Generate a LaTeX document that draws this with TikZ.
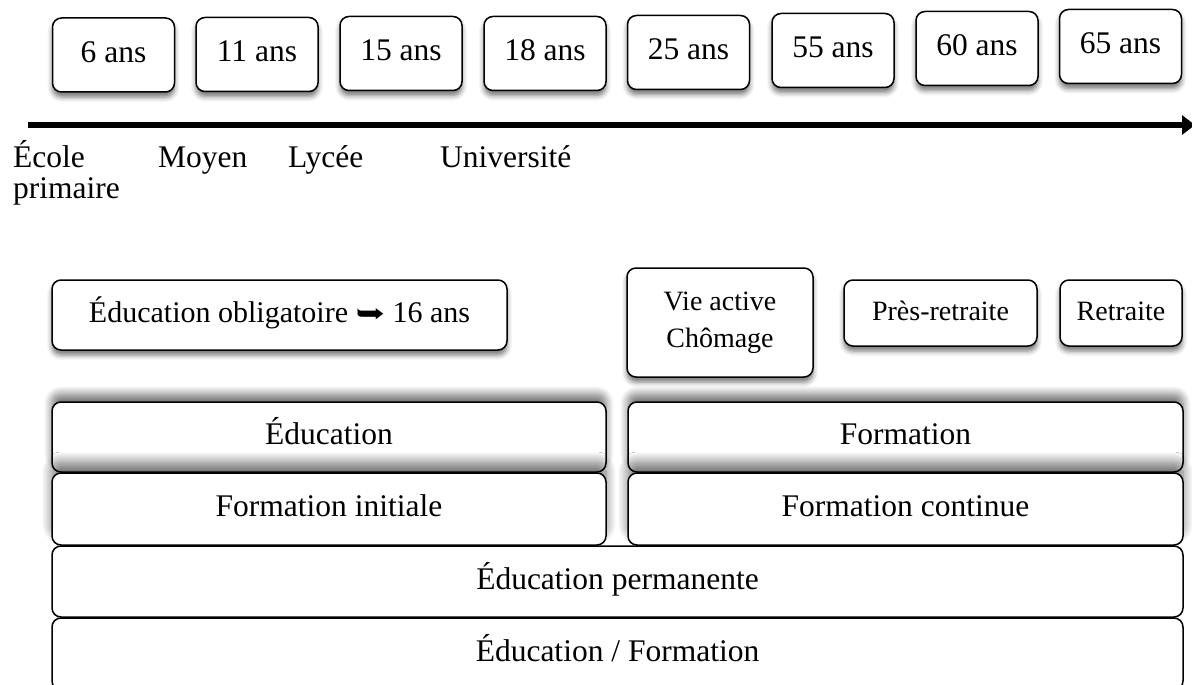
\documentclass[tikz,border=0pt]{standalone}
\usepackage{fontspec}
\usepackage{graphicx}
\setmainfont{Liberation Serif}
\newfontfamily\symfont{DejaVu Sans}
\usetikzlibrary{shadows.blur, arrows.meta}

\begin{document}
\begin{tikzpicture}[x=1pt, y=-1pt,
  box/.style={draw, line width=1.5pt, rounded corners=9pt, fill=white,
    inner sep=0pt, outer sep=0pt, align=center},
  big/.style={font=\fontsize{31.5}{34}\selectfont, text height=22pt, text depth=7pt},
  mid/.style={font=\fontsize{30}{33}\selectfont, text height=21pt, text depth=7pt},
  small/.style={font=\fontsize{28}{37}\selectfont},
  oneline/.style={small, text height=20pt, text depth=6pt},
  lblfont/.style={font=\fontsize{31.5}{32}\selectfont},
  dropshade/.style={blur shadow={shadow xshift=0pt, shadow yshift=-5pt,
    shadow blur radius=5pt, shadow opacity=55}},
  upshade/.style={blur shadow={shadow xshift=0pt, shadow yshift=8pt,
    shadow blur radius=8pt, shadow opacity=55, shadow blur steps=12}},
  upshadelow/.style={blur shadow={shadow xshift=0pt, shadow yshift=11pt,
    shadow blur radius=10pt, shadow opacity=55, shadow blur steps=14}},
  agebox/.style={box, dropshade, big, minimum width=122pt, minimum height=74pt},
  lbl/.style={lblfont, inner sep=0pt, anchor=base west},
]
\useasboundingbox (0,0) rectangle (1192,685);

% ages along the time line
\node[agebox] (a6)  at (113.5,55)  {6 ans};
\node[agebox] (a11) at (257,54.5)  {11 ans};
\node[agebox] (a15) at (401,53.5)  {15 ans};
\node[agebox] (a18) at (545,53.5)  {18 ans};
\node[agebox] (a25) at (688.5,52.5){25 ans};
\node[agebox] (a55) at (833,50.5)  {55 ans};
\node[agebox] (a60) at (977,48.5)  {60 ans};
\node[agebox] (a65) at (1120.5,46.5){65 ans};

% time axis
\coordinate (axstart) at (28,125);
\coordinate (axend) at (1195,125);
\draw[line width=5.5pt, -{Triangle[length=13pt, width=19pt]}] (axstart) -- (axend);

% school stages under the axis
\node[lbl] (ecole) at (13,167) {\begin{tabular}[t]{@{}l@{}}École\\primaire\end{tabular}};
\node[lbl] (moyen) at (158,167) {Moyen};
\node[lbl] (lycee) at (288,167) {Lycée};
\node[lbl] (univ)  at (440,167) {Université};

% stages of life
\node[box, dropshade, mid, minimum width=455pt, minimum height=70pt] (oblig) at (279.5,315)
  {Éducation obligatoire {\symfont\scalebox{1.6}[1.2]{\fontsize{22}{22}\selectfont ➥}} 16 ans};
\node[box, dropshade, small, minimum width=186pt, minimum height=109pt] (vie) at (720,322.5)
  {Vie active\\Chômage};
\node[box, dropshade, oneline, minimum width=193pt, minimum height=66pt] (pres) at (940.5,313)
  {Près-retraite};
\node[box, dropshade, oneline, minimum width=122pt, minimum height=66pt] (retr) at (1121,313)
  {Retraite};

% stacked layers, bottom first
\node[box, big, minimum width=1131pt, minimum height=72pt] (eduform) at (617.5,654)
  {Éducation / Formation};
\node[box, big, minimum width=1131pt, minimum height=71pt] (perm) at (617.5,581.5)
  {Éducation permanente};
\node[box, upshade, big, minimum width=554pt, minimum height=70pt] (edu) at (329,437)
  {Éducation};
\node[box, upshade, big, minimum width=555pt, minimum height=70pt] (form) at (905.5,437)
  {Formation};
\node[box, upshadelow, big, minimum width=554pt, minimum height=72pt] (finit) at (329,509)
  {Formation initiale};
\node[box, upshadelow, big, minimum width=555pt, minimum height=72pt] (fcont) at (905.5,509)
  {Formation continue};
\end{tikzpicture}
\end{document}
